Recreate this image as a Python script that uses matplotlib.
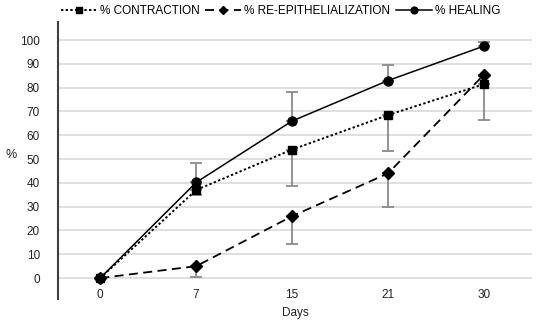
import numpy as np
import matplotlib.pyplot as plt

plt.rcParams['font.family'] = ['Liberation Sans', 'DejaVu Sans']

days = ['0', '7', '15', '21', '30']
contraction = [0, 37, 54, 68.5, 81.5]
contraction_err = [0, 2, 15.5, 15, 15]
reepi = [0, 5, 26, 44, 85.5]
reepi_err = [0, 4.6, 11.8, 14, 0]
healing = [0, 40.2, 66, 83, 97.5]
healing_err = [0, 8.2, 12, 6.5, 1.7]

x = np.arange(len(days))
zeros = [0] * len(days)
ecol = '#8a8a8a'

fig = plt.figure(figsize=(5.36, 3.28), dpi=100)
ax = fig.add_axes([58 / 536, 1 - 299 / 328, (532 - 58) / 536, (299 - 22) / 328])

# error bars (one-sided, as in the original)
ax.errorbar(x, contraction, yerr=[contraction_err, zeros], fmt='none',
            ecolor=ecol, elinewidth=1.3, capsize=4, capthick=1.3, zorder=2)
ax.errorbar(x, reepi, yerr=[reepi_err, zeros], fmt='none',
            ecolor=ecol, elinewidth=1.3, capsize=4, capthick=1.3, zorder=2)
ax.errorbar(x, healing, yerr=[zeros, healing_err], fmt='none',
            ecolor=ecol, elinewidth=1.3, capsize=4, capthick=1.3, zorder=2)

ax.plot(x, contraction, color='black', ls=(0, (1.2, 1.2)), lw=1.4,
        marker='s', ms=5.5, label='% CONTRACTION', zorder=3)
ax.plot(x, reepi, color='black', ls=(0, (5, 3)), lw=1.3,
        marker='D', ms=6, label='% RE-EPITHELIALIZATION', zorder=3)
ax.plot(x, healing, color='black', ls='-', lw=1.1,
        marker='o', ms=6.5, label='% HEALING', zorder=3)

ax.set_xlim(-0.44, 4.5)
ax.set_ylim(-8.8, 107.6)
ax.set_yticks(np.arange(0, 101, 10))
ax.set_xticks(x)
ax.set_xticklabels(days)
ax.yaxis.grid(True, color='#d9d9d9', lw=1.2)
ax.set_axisbelow(True)

for s in ['top', 'right', 'bottom']:
    ax.spines[s].set_visible(False)
ax.spines['left'].set_color('#404040')
ax.spines['left'].set_linewidth(1.5)

ax.tick_params(axis='x', length=0, pad=-7, labelsize=8.5, colors='#222222')
ax.tick_params(axis='y', length=0, pad=13, labelsize=8.5, colors='#222222')

ax.set_xlabel('Days', fontsize=8.5, color='#222222', labelpad=4)
ax.set_ylabel('%', fontsize=9, color='#222222', rotation=0, labelpad=16, va='center')
ax.yaxis.set_label_coords(-0.098, 0.52)

ax.legend(loc='lower center', bbox_to_anchor=(0.47, 1.0), ncol=3, frameon=False,
          fontsize=8.5, handlelength=3.0, columnspacing=0.5, handletextpad=0.3,
          markerscale=0.75, borderaxespad=0)

fig.savefig('out.png', dpi=100)
